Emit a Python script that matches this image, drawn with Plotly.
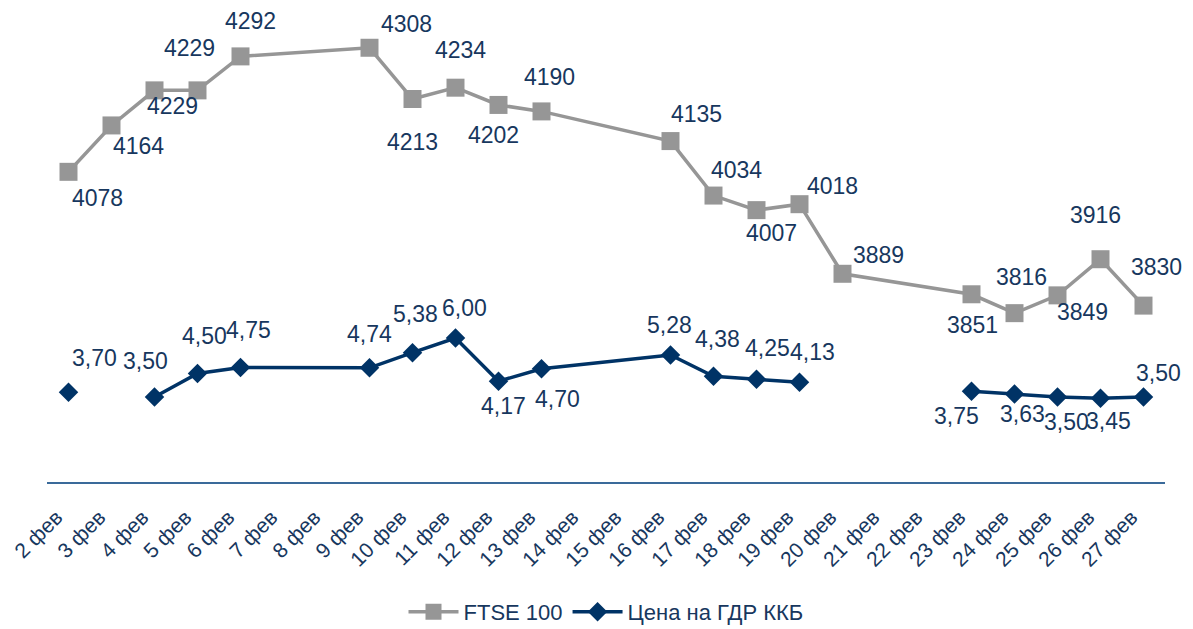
import plotly.graph_objects as go

# ---- data ----
days = ["2 фев", "3 фев", "4 фев", "5 фев", "6 фев", "7 фев", "8 фев", "9 фев", "10 фев",
        "11 фев", "12 фев", "13 фев", "14 фев", "15 фев", "16 фев", "17 фев", "18 фев",
        "19 фев", "20 фев", "21 фев", "22 фев", "23 фев", "24 фев", "25 фев", "26 фев", "27 фев"]

ftse_days = ["2 фев", "3 фев", "4 фев", "5 фев", "6 фев", "9 фев", "10 фев", "11 фев", "12 фев",
             "13 фев", "16 фев", "17 фев", "18 фев", "19 фев", "20 фев", "23 фев", "24 фев",
             "25 фев", "26 фев", "27 фев"]
ftse_values = [4078, 4164, 4229, 4229, 4292, 4308, 4213, 4234, 4202, 4190, 4135, 4034, 4007,
               4018, 3889, 3851, 3816, 3849, 3916, 3830]

gdr_days = ["2 фев", "3 фев", "4 фев", "5 фев", "6 фев", "9 фев", "10 фев", "11 фев", "12 фев",
            "13 фев", "16 фев", "17 фев", "18 фев", "19 фев", "20 фев", "23 фев", "24 фев",
            "25 фев", "26 фев", "27 фев"]
gdr_values = [3.70, None, 3.50, 4.50, 4.75, 4.74, 5.38, 6.00, 4.17, 4.70, 5.28, 4.38, 4.25, 4.13,
              None, 3.75, 3.63, 3.50, 3.45, 3.50]

# ---- label placement (style, pixel offsets: dx right, dy down) ----
ftse_dx = [29, 27, 18, -8, 10, 37, 0, 5, -5, 8, 26, 23, 15, 33, 36, 1, 7, 25, -5, 13]
ftse_dy = [26, 21, 16, -42, -35, -24, 43, -38, 30, -34, -27, -26, 23, -18, -19, 31, -36, 17, -44, -39]
gdr_dx = [26, 0, -9, 7, 8, 0, 3, 9, 5, 16, -1, 4, 11, 13, 0, -15, 8, 9, 8, 15]
gdr_dy = [-34, 0, -36, -37, -38, -34, -39, -30, 25, 30, -30, -37, -31, -30, 0, 25, 20, 25, 23, -24]

NAVY_TEXT = "#17375E"
GDR_COLOR = "#003366"
FTSE_COLOR = "#969696"
FONT = "Liberation Sans, Arial, sans-serif"

fig = go.Figure()
fig.add_trace(go.Scatter(
    x=ftse_days, y=ftse_values, name="FTSE 100", mode="lines+markers",
    line=dict(color=FTSE_COLOR, width=3.5),
    marker=dict(symbol="square", size=18, color=FTSE_COLOR),
    yaxis="y", connectgaps=True,
))
fig.add_trace(go.Scatter(
    x=gdr_days, y=gdr_values, name="Цена на ГДР ККБ", mode="lines+markers",
    line=dict(color=GDR_COLOR, width=3.5),
    marker=dict(symbol="diamond", size=15, color=GDR_COLOR),
    yaxis="y2", connectgaps=False,
))


def fmt_gdr(v):
    return f"{v:.2f}".replace(".", ",")


annotations = []
for d, v, dx, dy in zip(ftse_days, ftse_values, ftse_dx, ftse_dy):
    annotations.append(dict(x=d, y=v, xref="x", yref="y", text=str(v), showarrow=False,
                            xshift=dx, yshift=-dy,
                            font=dict(family=FONT, size=23, color=NAVY_TEXT)))
for d, v, dx, dy in zip(gdr_days, gdr_values, gdr_dx, gdr_dy):
    if v is None:
        continue
    annotations.append(dict(x=d, y=v, xref="x", yref="y2", text=fmt_gdr(v), showarrow=False,
                            xshift=dx, yshift=-dy,
                            font=dict(family=FONT, size=23, color=NAVY_TEXT)))

# page body has an 8px default margin; figure sized/placed to compensate
fig.update_layout(
    width=1185, height=629,
    margin=dict(l=39, r=28, t=2, b=155),
    paper_bgcolor="white", plot_bgcolor="white",
    font=dict(family=FONT, color=NAVY_TEXT, size=20),
    showlegend=True,
    legend=dict(orientation="h", x=0.5, xanchor="center", y=-0.2754, yanchor="middle",
                font=dict(family=FONT, size=22, color=NAVY_TEXT), itemwidth=50),
    xaxis=dict(type="category", categoryorder="array", categoryarray=days,
               range=[-0.5, len(days) - 0.5], showgrid=False, zeroline=False,
               showline=True, linecolor="#3A6A9A", linewidth=1.5,
               ticks="", tickangle=-45, automargin=False,
               ticklabelstandoff=13, ticklabelshift=-12,
               tickfont=dict(family=FONT, size=21, color=NAVY_TEXT)),
    yaxis=dict(range=[3503, 4378], visible=False, showgrid=False, zeroline=False),
    yaxis2=dict(range=[-0.1, 19.9], visible=False, overlaying="y", showgrid=False,
                zeroline=False),
    annotations=annotations,
)

fig.write_html("out.html")
